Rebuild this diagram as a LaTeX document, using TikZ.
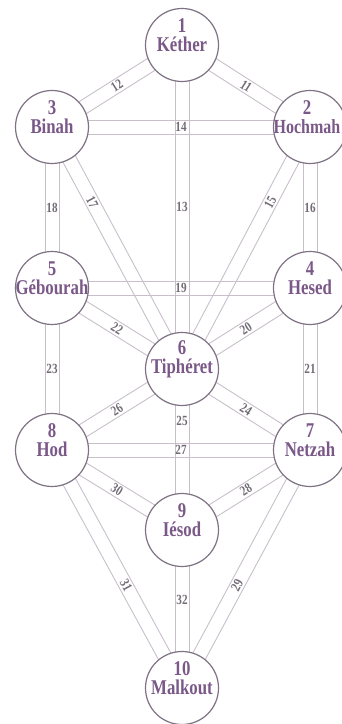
\documentclass[tikz,border=0pt]{standalone}
\usepackage{fontspec}
\newfontfamily\sephfont[FakeStretch=0.8]{Liberation Serif}
\usetikzlibrary{calc,backgrounds}

\definecolor{nomclr}{HTML}{7A5888}
\definecolor{cercleclr}{HTML}{7E7283}
\definecolor{voieclr}{HTML}{C8BFCB}
\definecolor{numclr}{HTML}{736C77}

% Canal : deux traits paralleles entre deux sephiroth, puis le numero
\newcommand{\canal}[5][sloped]{%
  \begin{pgfonlayer}{background}
    \draw[voie] ($(#2.center)!7pt!90:(#3.center)$) -- ($(#3.center)!7pt!-90:(#2.center)$);
    \draw[voie] ($(#2.center)!7pt!-90:(#3.center)$) -- ($(#3.center)!7pt!90:(#2.center)$);
  \end{pgfonlayer}
  \path (#2.center) -- (#3.center) node[numero, pos=#4, #1] {#5};
}

\begin{document}
\begin{tikzpicture}[x=1pt, y=1pt,
    sephira/.style={circle, draw=cercleclr, line width=1.2pt, fill=white,
      minimum size=73pt, inner sep=0pt},
    nom/.style={align=center, text=nomclr, inner sep=0pt, yshift=10pt,
      font=\sephfont\bfseries\fontsize{21}{19}\selectfont},
    voie/.style={line width=0.9pt, draw=voieclr},
    numero/.style={text=numclr, inner sep=0.5pt,
      font=\sephfont\bfseries\fontsize{14}{14}\selectfont}]
    \useasboundingbox (0,0) rectangle (342,724);

    % Sephiroth
    \node[sephira, label={[nom]center:{1\\Kéther}}] (kether) at (182,679) {};
    \node[sephira, label={[nom, xshift=-3pt]center:{2\\\fontsize{20}{19}\selectfont Hochmah}}] (hochmah) at (310,597) {};
    \node[sephira, label={[nom]center:{3\\Binah}}] (binah) at (52,597) {};
    \node[sephira, label={[nom]center:{4\\Hesed}}] (hesed) at (310,436) {};
    \node[sephira, label={[nom]center:{5\\Gébourah}}] (geburah) at (52,436) {};
    \node[sephira, label={[nom]center:{6\\Tiphéret}}] (tiphereth) at (182,355) {};
    \node[sephira, label={[nom]center:{7\\Netzah}}] (netzah) at (310,274) {};
    \node[sephira, label={[nom]center:{8\\Hod}}] (hod) at (52,274) {};
    \node[sephira, label={[nom]center:{9\\Iésod}}] (iesod) at (182,194) {};
    \node[sephira, label={[nom]center:{10\\Malkout}}] (malkout) at (182,36) {};

    % Chemins
    \canal{kether}{hochmah}{.5}{11}
    \canal{kether}{binah}{.5}{12}
    \canal[]{kether}{tiphereth}{.5}{13}
    \canal{binah}{hochmah}{.5}{14}
    \canal{hochmah}{tiphereth}{.31}{15}
    \canal[]{hochmah}{hesed}{.5}{16}
    \canal{binah}{tiphereth}{.31}{17}
    \canal[]{binah}{geburah}{.5}{18}
    \canal{geburah}{hesed}{.5}{19}
    \canal{hesed}{tiphereth}{.5}{20}
    \canal[]{hesed}{netzah}{.5}{21}
    \canal{geburah}{tiphereth}{.5}{22}
    \canal[]{geburah}{hod}{.5}{23}
    \canal{tiphereth}{netzah}{.5}{24}
    \canal[]{tiphereth}{iesod}{.32}{25}
    \canal{tiphereth}{hod}{.5}{26}
    \canal{hod}{netzah}{.5}{27}
    \canal{netzah}{iesod}{.5}{28}
    \canal{netzah}{malkout}{.57}{29}
    \canal{hod}{iesod}{.5}{30}
    \canal{hod}{malkout}{.57}{31}
    \canal[]{iesod}{malkout}{.445}{32}
\end{tikzpicture}
\end{document}
